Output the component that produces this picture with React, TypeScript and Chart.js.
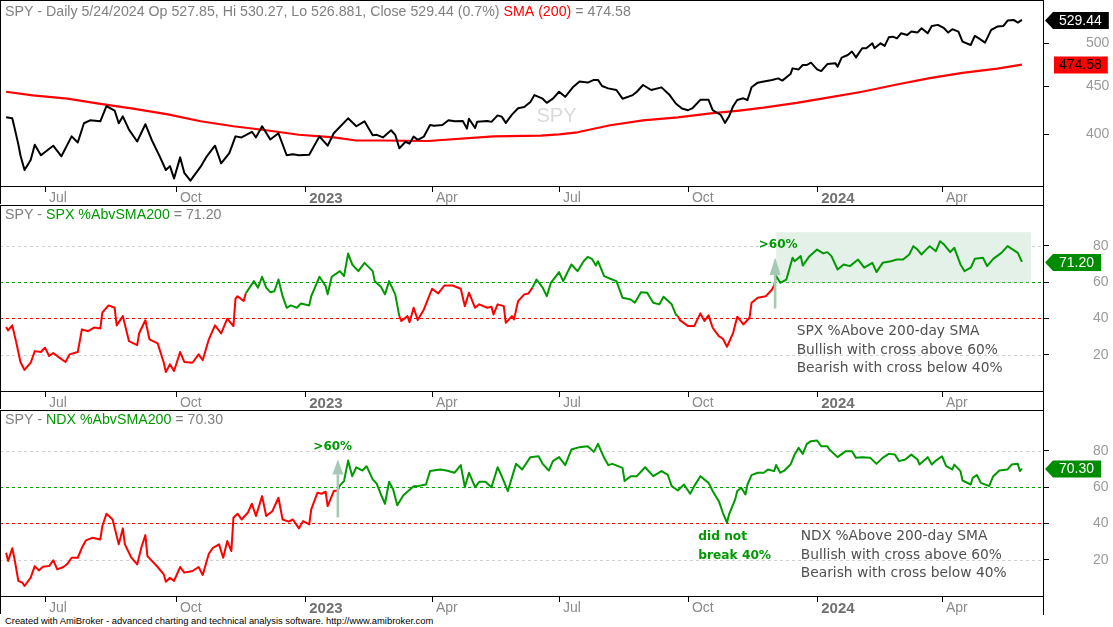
import { useEffect, useRef } from "react";
import { Chart, registerables } from "chart.js";

Chart.register(...registerables);

// x values are trading sessions counted from Fri 2022-06-03 (session 0); Fri 2024-05-24 is session 496
const quarterTickSessions = [19, 83, 146, 208, 270, 333, 396, 457];
const quarterTickLabels = ["Jul", "Oct", "2023", "Apr", "Jul", "Oct", "2024", "Apr"];
const yearTickLabels = ["2023", "2024"];

const priceTicks = [400, 450, 500];
const breadthTicks = [20, 40, 60, 80];
const breadthTickColors = ["#d2d2d2", "#ff0000", "#00a000", "#d2d2d2"];

const spySessions = [0, 3, 4, 6, 7, 9, 12, 14, 17, 23, 27, 32, 35, 38, 41, 46, 49, 53, 55, 57, 60, 64, 68, 71, 75, 78, 80, 82, 85, 87, 90, 95, 98, 102, 105, 109, 112, 115, 120, 122, 125, 129, 133, 137, 140, 143, 148, 153, 157, 160, 167, 171, 175, 179, 181, 184, 188, 190, 192, 195, 197, 199, 201, 204, 207, 209, 213, 216, 219, 223, 225, 226, 229, 230, 235, 237, 240, 242, 244, 247, 250, 253, 256, 258, 262, 264, 267, 270, 273, 277, 280, 284, 287, 289, 291, 294, 298, 301, 306, 308, 311, 315, 320, 324, 327, 330, 333, 335, 339, 343, 345, 349, 351, 353, 355, 357, 360, 362, 364, 367, 370, 374, 377, 379, 383, 384, 387, 389, 391, 393, 396, 398, 401, 405, 406, 408, 411, 413, 415, 418, 420, 423, 424, 427, 429, 431, 433, 435, 437, 440, 442, 445, 447, 450, 452, 455, 458, 460, 462, 465, 467, 471, 473, 475, 478, 481, 484, 487, 489, 492, 494, 496];
const spyClose = [417, 416, 407.5, 390, 380, 366.5, 375.6, 390, 380, 389, 379, 398, 392, 411, 414, 413, 428.6, 424, 411, 418, 404.6, 393, 410, 395, 379, 366.5, 370, 359, 378, 364, 357, 369.5, 379, 389, 372.5, 382, 398, 397, 402.5, 397, 408, 395, 401, 380, 381, 380, 380.5, 398, 389, 401, 416, 408, 413, 399, 399.5, 397, 404, 399.5, 386.5, 392.8, 391, 397.8, 394.6, 397.8, 409.3, 408.4, 409.3, 414, 413, 413.3, 405.6, 415.6, 406.2, 412.4, 413.3, 412.4, 419, 417.7, 411.4, 419.8, 426.4, 427.8, 433, 440.4, 436.5, 432.1, 436.5, 444, 438.5, 449.5, 455.2, 454.1, 457.1, 457.1, 450.3, 447.7, 445.9, 436.5, 440.4, 444, 451.4, 445.9, 448.8, 440.4, 431.4, 426.2, 424.4, 426.2, 435.3, 435.3, 424.4, 419.4, 411.4, 418, 428.5, 435.1, 436.9, 435.1, 449, 454, 455.2, 457, 458.8, 456.3, 463.7, 470.2, 469, 474.1, 474.1, 476.8, 469, 467.1, 475.2, 476, 472.1, 482.7, 485.9, 490, 483.1, 494, 494, 500, 494, 500, 496.8, 507.4, 508.2, 506.1, 512.4, 510.3, 514.6, 513.3, 518.8, 512.4, 521.8, 523.1, 518.8, 513.3, 517.6, 514.6, 502.1, 497.9, 509.1, 506.1, 500.8, 516.7, 521, 521.8, 528.7, 529.5, 526.1, 529.44];

const smaSessions = [0, 13, 30, 46, 62, 79, 95, 111, 127, 143, 160, 171, 183, 206, 238, 261, 270, 279, 295, 311, 328, 344, 358, 370, 386, 402, 418, 435, 451, 467, 484, 496];
const sma200 = [444, 440, 436.6, 431, 426, 420, 413, 408, 404, 399.6, 397, 394, 394, 393.5, 398, 398.7, 400, 402, 409, 414, 417, 421, 424, 427, 432, 438, 444, 452, 459, 465, 470, 474.58];

const spxSessions = [0, 1, 3, 5, 7, 9, 12, 14, 17, 19, 21, 23, 26, 29, 31, 35, 37, 40, 43, 46, 47, 50, 53, 54, 57, 60, 64, 65, 68, 70, 74, 77, 78, 80, 82, 85, 87, 91, 94, 96, 99, 102, 105, 108, 111, 112, 113, 116, 117, 121, 123, 125, 127, 129, 131, 133, 135, 137, 139, 142, 144, 148, 149, 153, 156, 157, 159, 163, 165, 167, 169, 172, 175, 179, 180, 183, 185, 187, 190, 192, 193, 196, 197, 199, 201, 204, 208, 211, 214, 218, 222, 224, 226, 229, 231, 235, 237, 238, 240, 243, 244, 247, 248, 250, 253, 255, 257, 259, 262, 264, 266, 270, 272, 276, 279, 282, 284, 286, 288, 289, 292, 295, 298, 301, 305, 307, 310, 313, 316, 319, 321, 325, 327, 328, 329, 333, 336, 339, 341, 343, 345, 348, 350, 352, 355, 357, 360, 363, 364, 367, 371, 374, 375, 376, 378, 381, 384, 385, 388, 389, 392, 396, 399, 401, 403, 406, 409, 412, 416, 419, 423, 425, 428, 432, 435, 438, 441, 443, 445, 447, 448, 451, 454, 456, 458, 461, 463, 466, 468, 471, 473, 477, 479, 482, 486, 489, 492, 494, 496];
const spxPctAbove = [35.3, 33.4, 36.2, 26.6, 16, 11.6, 15.6, 22, 21.5, 23.9, 19.3, 21, 18.4, 16, 20.2, 21.5, 34, 33, 35, 34.5, 43.2, 47.2, 45.9, 36.2, 41.3, 27.5, 25.3, 32, 39, 28.5, 26.3, 15.6, 10.5, 14.7, 11, 21.5, 16, 15.6, 20.2, 17, 28.5, 36.2, 31.8, 39.9, 35.8, 50.9, 52.3, 49.6, 53.8, 60.6, 57, 63, 57, 54.5, 55, 61.5, 52.3, 45.9, 47.2, 45.9, 48.3, 47.2, 52.3, 63, 57.9, 53.3, 63, 66.1, 63.4, 75.8, 69.8, 66.1, 70.7, 66.1, 60.6, 57.5, 53.3, 60.6, 53.3, 41.3, 38.6, 41.3, 38, 45.9, 39.1, 45, 56.4, 53.8, 58.2, 58.2, 56.4, 46.8, 54.2, 45.9, 47.8, 45.9, 46.5, 42.2, 47.8, 46.8, 37.6, 41.3, 39.5, 49.6, 53.3, 53.8, 57, 61.5, 57, 52.3, 59.7, 65.6, 60.6, 69.8, 66.1, 71.6, 74, 72.9, 69.2, 71.6, 63.4, 61.9, 60.6, 51.4, 50.5, 48.7, 54.5, 54.2, 48.7, 47.8, 52, 47.8, 42.2, 41.3, 39.1, 35.8, 35.8, 42.8, 38.6, 41.7, 34.9, 30.3, 28.8, 24.4, 32.1, 41, 36.7, 40.4, 48.7, 51.4, 52.3, 56, 58.2, 63.4, 59.7, 61.5, 73.5, 71.6, 74.4, 69.2, 74, 78, 75.9, 76.6, 74.4, 67, 69.8, 68.9, 72.5, 68, 70.7, 65.6, 70.7, 71.6, 72.5, 72.5, 75.3, 79.9, 78, 75.3, 76.6, 79.9, 77.1, 82.6, 80.8, 76.6, 79, 69.8, 66.1, 68, 72.9, 73.5, 68.9, 72.9, 76.2, 79.9, 77.7, 76.2, 71.2];

const ndxSessions = [0, 1, 3, 4, 6, 8, 9, 12, 14, 16, 18, 21, 23, 25, 28, 30, 32, 35, 37, 39, 42, 46, 47, 49, 52, 55, 57, 58, 61, 64, 66, 68, 69, 74, 77, 78, 80, 82, 85, 87, 91, 94, 96, 99, 101, 104, 106, 108, 110, 111, 113, 115, 118, 120, 122, 125, 127, 130, 133, 135, 138, 140, 143, 145, 148, 149, 152, 154, 156, 157, 160, 162, 163, 165, 167, 169, 171, 174, 176, 179, 181, 183, 185, 187, 189, 191, 194, 199, 201, 205, 207, 212, 215, 219, 222, 224, 226, 229, 231, 234, 237, 240, 242, 245, 249, 252, 256, 260, 262, 265, 267, 270, 273, 276, 280, 284, 287, 289, 292, 294, 296, 301, 302, 305, 308, 312, 316, 320, 323, 325, 328, 331, 334, 336, 339, 343, 345, 348, 350, 352, 353, 356, 357, 359, 361, 362, 364, 367, 370, 372, 375, 376, 378, 380, 383, 385, 387, 389, 391, 393, 396, 398, 401, 402, 406, 410, 413, 415, 418, 422, 425, 428, 431, 434, 436, 439, 442, 445, 446, 450, 452, 454, 457, 459, 462, 463, 466, 467, 471, 472, 474, 476, 480, 482, 485, 489, 491, 494, 495, 496];
const ndxPctAbove = [23.9, 19.3, 26.3, 21.1, 8.3, 7.3, 5.5, 10.1, 16.5, 14.1, 16.2, 16.5, 19.7, 14.7, 16, 17.8, 21.1, 21.1, 26.6, 30.7, 32.1, 31.2, 38.6, 45.4, 42.2, 28.5, 37.3, 28.5, 21.5, 17.4, 26.6, 33.6, 22, 16, 11.9, 7.9, 10.1, 8.3, 16, 12.9, 13.8, 16, 11.6, 23.3, 26.6, 28.5, 21.1, 30.3, 24.8, 43.2, 45.4, 42.2, 45.9, 50.9, 44.1, 55.1, 44.1, 46.8, 54.2, 42.2, 41, 42.2, 37.3, 41.3, 39.5, 47.8, 56.9, 56.4, 57.5, 49.6, 57.9, 58.2, 61, 63.4, 74.7, 66.1, 71, 69.2, 71.6, 64.3, 61.9, 56, 50.9, 63, 58.8, 50.1, 55.6, 60.6, 60.6, 61.5, 68.9, 69.8, 69.2, 68, 72.2, 60, 68, 60, 63, 63, 60, 71, 66.1, 57.9, 72.9, 69.8, 76.6, 77.1, 72.9, 69.2, 74.4, 76.6, 72.2, 80.8, 82.1, 82.6, 79.5, 83.9, 76.2, 72.2, 72.9, 70.7, 63.4, 66.1, 66.1, 71, 66.1, 68.9, 67, 60.6, 58.2, 61.5, 56.4, 60.6, 66.1, 62.4, 57.9, 52.3, 45.9, 40.4, 45, 53.3, 57.9, 59.7, 56, 61.5, 66.7, 68, 68, 69.8, 68.9, 72.2, 68, 69.2, 72.5, 78, 81.7, 78.4, 83.9, 85.4, 85.8, 82.6, 82.6, 80.8, 76.6, 79.9, 79.9, 76.2, 76.6, 76.2, 72.9, 76.2, 78.4, 78, 74.4, 75.3, 78, 75.3, 72.5, 76.6, 72.5, 74.7, 77.1, 71.6, 69.8, 72.5, 68.9, 63.7, 61.5, 65.2, 66.7, 62.4, 60.6, 66.1, 69.2, 69.8, 72.5, 72.9, 68.9, 70.3];

const X_MIN = -2.98;
const X_MAX = 506.3;
const FONT = "'Liberation Sans', Arial, sans-serif";
const NOTE_FONT = "'DejaVu Sans', Verdana, sans-serif";
const GRAY = "#808080";
const GREEN = "#009900";
const RED = "#ff0000";

function points(xs: number[], ys: number[]) {
  return xs.map((x, i) => ({ x, y: ys[i] }));
}

function regimeColors(values: number[]) {
  let bullish = false;
  return values.map((v) => {
    if (!bullish && v > 60) bullish = true;
    else if (bullish && v < 40) bullish = false;
    return bullish ? GREEN : RED;
  });
}

function noPad(s: any) {
  s.paddingTop = 0;
  s.paddingBottom = 0;
  s.paddingLeft = 0;
  s.paddingRight = 0;
}

function isYearTick(v: number) {
  const i = quarterTickSessions.indexOf(v);
  return i >= 0 && yearTickLabels.includes(quarterTickLabels[i]);
}

function xScale() {
  return {
    type: "linear" as const,
    min: X_MIN,
    max: X_MAX,
    afterBuildTicks: (s: any) => {
      s.ticks = quarterTickSessions.map((v) => ({ value: v }));
    },
    afterFit: (s: any) => {
      s.height = 19;
      noPad(s);
    },
    border: { display: false },
    grid: { drawOnChartArea: false, drawTicks: true, tickLength: 6, tickColor: "#000", tickWidth: 1 },
    ticks: {
      autoSkip: false,
      maxRotation: 0,
      minRotation: 0,
      align: "start" as const,
      padding: -2,
      callback: (v: any) => {
        const i = quarterTickSessions.indexOf(Number(v));
        return i >= 0 ? " " + quarterTickLabels[i] : "";
      },
      color: (ctx: any) => (isYearTick(ctx.tick?.value) ? "#707070" : "#8a8a8a"),
      font: (ctx: any) => {
        const yr = isYearTick(ctx.tick?.value);
        return { family: FONT, size: yr ? 15 : 14, weight: yr ? "bold" : "normal" };
      },
    },
  };
}

function drawSegments(ctx: CanvasRenderingContext2D, x: number, y: number, segs: [string, string][]) {
  ctx.font = `14.2px ${FONT}`;
  ctx.textAlign = "left";
  ctx.textBaseline = "middle";
  for (const [t, c] of segs) {
    ctx.fillStyle = c;
    ctx.fillText(t, x, y);
    x += ctx.measureText(t).width;
  }
}

function drawTag(ctx: CanvasRenderingContext2D, y: number, text: string, bg: string, fg: string, arrow: boolean) {
  ctx.font = `14px ${FONT}`;
  const w = ctx.measureText(text).width;
  const h = 17;
  const tip = 1045;
  const base = arrow ? 1053 : 1054;
  const right = base + w + (arrow ? 13 : 11);
  ctx.fillStyle = bg;
  ctx.beginPath();
  if (arrow) {
    ctx.moveTo(tip, y);
    ctx.lineTo(base, y - h / 2);
    ctx.lineTo(right, y - h / 2);
    ctx.lineTo(right, y + h / 2);
    ctx.lineTo(base, y + h / 2);
    ctx.closePath();
  } else {
    ctx.rect(base, y - h / 2, right - base, h);
  }
  ctx.fill();
  ctx.fillStyle = fg;
  ctx.textAlign = "left";
  ctx.textBaseline = "middle";
  ctx.fillText(text, base + (arrow ? 6 : 5), y + 0.5);
}

function drawFrame(chart: any) {
  const ctx: CanvasRenderingContext2D = chart.ctx;
  const { right, bottom } = chart.chartArea;
  const H = chart.height;
  ctx.save();
  ctx.strokeStyle = "#000";
  ctx.lineWidth = 1;
  ctx.setLineDash([]);
  ctx.beginPath();
  ctx.moveTo(0.5, 0);
  ctx.lineTo(0.5, H - 1);
  ctx.moveTo(Math.round(right) + 0.5, 0);
  ctx.lineTo(Math.round(right) + 0.5, H);
  ctx.moveTo(0, 0.5);
  ctx.lineTo(right + 1, 0.5);
  ctx.moveTo(0, Math.round(bottom) + 0.5);
  ctx.lineTo(right + 1, Math.round(bottom) + 0.5);
  ctx.stroke();
  ctx.restore();
}

function drawUpArrow(ctx: CanvasRenderingContext2D, x: number, yFrom: number, yBase: number, yTip: number) {
  ctx.fillStyle = "#a6c9b3";
  ctx.fillRect(x - 1.3, yBase, 2.6, yFrom - yBase);
  ctx.beginPath();
  ctx.moveTo(x - 5.5, yBase);
  ctx.lineTo(x + 5.5, yBase);
  ctx.lineTo(x, yTip);
  ctx.closePath();
  ctx.fill();
}

function drawNoteLines(ctx: CanvasRenderingContext2D, x: number, ys: number[], lines: string[]) {
  ctx.font = `13.8px ${NOTE_FONT}`;
  ctx.fillStyle = "#505050";
  ctx.textAlign = "left";
  ctx.textBaseline = "middle";
  lines.forEach((l, i) => ctx.fillText(l, x, ys[i]));
}

const baseOptions = {
  animation: false as const,
  responsive: false,
  events: [] as any[],
  layout: { padding: 0 },
  elements: { point: { radius: 0 }, line: { tension: 0, borderJoinStyle: "round" as const } },
  plugins: { legend: { display: false }, tooltip: { enabled: false }, title: { display: false } },
};

function makePriceChart(canvas: HTMLCanvasElement) {
  const plugin = {
    id: "pricePanel",
    beforeDatasetsDraw(chart: any) {
      const ctx: CanvasRenderingContext2D = chart.ctx;
      ctx.save();
      ctx.font = `20px ${FONT}`;
      ctx.fillStyle = "#dadada";
      ctx.textAlign = "center";
      ctx.textBaseline = "middle";
      ctx.fillText("SPY", chart.width / 2, 116);
      ctx.restore();
    },
    afterDraw(chart: any) {
      const ctx: CanvasRenderingContext2D = chart.ctx;
      const y = chart.scales.y;
      drawFrame(chart);
      ctx.save();
      drawSegments(ctx, 5, 12, [
        ["SPY - Daily 5/24/2024 Op 527.85, Hi 530.27, Lo 526.881, Close 529.44 (0.7%) ", GRAY],
        ["SMA (200)", RED],
        [" = 474.58", GRAY],
      ]);
      drawTag(ctx, y.getPixelForValue(spyClose[spyClose.length - 1]) + 0.5, "529.44", "#000", "#fff", true);
      drawTag(ctx, y.getPixelForValue(sma200[sma200.length - 1]) + 0.5, "474.58", RED, "#000", false);
      ctx.restore();
    },
  };
  return new Chart(canvas, {
    type: "line",
    data: {
      datasets: [
        { data: points(spySessions, spyClose), borderColor: "#000", borderWidth: 2 },
        { data: points(smaSessions, sma200), borderColor: RED, borderWidth: 2.2 },
      ],
    },
    options: {
      ...baseOptions,
      scales: {
        x: xScale() as any,
        y: {
          type: "logarithmic",
          position: "right",
          min: 352.4,
          max: 556,
          afterBuildTicks: (s: any) => {
            s.ticks = priceTicks.map((v) => ({ value: v }));
          },
          afterFit: (s: any) => {
            s.width = 70;
            noPad(s);
          },
          border: { display: false },
          grid: { drawOnChartArea: false, drawTicks: true, tickLength: 6, tickColor: "#000" },
          ticks: {
            padding: 37,
            color: "#9a9a9a",
            font: { family: FONT, size: 14 },
            callback: (v: any) => String(v),
          },
        } as any,
      },
    } as any,
    plugins: [plugin],
  });
}

type BreadthCfg = {
  sessions: number[];
  values: number[];
  name: string;
  valueText: string;
  noteSession: number;
  noteLines: string[];
  arrowSession: number;
  arrowFrom: number;
  arrowBase: number;
  arrowTip: number;
  labelSession: number;
  labelValue: number;
  shade?: { from: number; to: number; low: number; high: number };
  extra?: { session: number; values: number[]; lines: string[] };
};

function makeBreadthChart(canvas: HTMLCanvasElement, cfg: BreadthCfg) {
  const colors = regimeColors(cfg.values);
  const plugin = {
    id: "breadthPanel",
    beforeDatasetsDraw(chart: any) {
      const ctx: CanvasRenderingContext2D = chart.ctx;
      const x = chart.scales.x;
      const y = chart.scales.y;
      const { left, right } = chart.chartArea;
      ctx.save();
      ctx.lineWidth = 1;
      ctx.setLineDash([3, 3]);
      breadthTicks.forEach((v, i) => {
        const py = Math.round(y.getPixelForValue(v)) + 0.5;
        ctx.strokeStyle = breadthTickColors[i];
        ctx.beginPath();
        ctx.moveTo(left, py);
        ctx.lineTo(right, py);
        ctx.stroke();
      });
      ctx.setLineDash([]);
      if (cfg.shade) {
        const x0 = x.getPixelForValue(cfg.shade.from);
        const x1 = x.getPixelForValue(cfg.shade.to);
        const y0 = y.getPixelForValue(cfg.shade.high);
        const y1 = y.getPixelForValue(cfg.shade.low);
        ctx.fillStyle = "#e4f1e8";
        ctx.fillRect(x0, y0, x1 - x0, y1 - y0);
      }
      ctx.restore();
    },
    afterDraw(chart: any) {
      const ctx: CanvasRenderingContext2D = chart.ctx;
      const x = chart.scales.x;
      const y = chart.scales.y;
      drawFrame(chart);
      ctx.save();
      drawSegments(ctx, 5, 10.5, [
        ["SPY - ", GRAY],
        [cfg.name, GREEN],
        [" = " + cfg.valueText, GRAY],
      ]);
      const ax = x.getPixelForValue(cfg.arrowSession);
      drawUpArrow(ctx, ax, y.getPixelForValue(cfg.arrowFrom), y.getPixelForValue(cfg.arrowBase), y.getPixelForValue(cfg.arrowTip));
      ctx.font = `bold 12px ${NOTE_FONT}`;
      ctx.fillStyle = GREEN;
      ctx.textAlign = "center";
      ctx.textBaseline = "middle";
      ctx.fillText(">60%", x.getPixelForValue(cfg.labelSession), y.getPixelForValue(cfg.labelValue));
      if (cfg.extra) {
        const ex = cfg.extra;
        ctx.font = `bold 12.2px ${NOTE_FONT}`;
        ctx.textAlign = "left";
        const px = x.getPixelForValue(ex.session);
        ex.lines.forEach((l, i) => ctx.fillText(l, px, y.getPixelForValue(ex.values[i])));
      }
      drawNoteLines(
        ctx,
        x.getPixelForValue(cfg.noteSession),
        [32.9, 22.6, 12.5].map((v) => y.getPixelForValue(v)),
        cfg.noteLines
      );
      drawTag(ctx, y.getPixelForValue(cfg.values[cfg.values.length - 1]) + 0.5, cfg.valueText, "#008c00", "#fff", true);
      ctx.restore();
    },
  };
  return new Chart(canvas, {
    type: "line",
    data: {
      datasets: [
        {
          data: points(cfg.sessions, cfg.values),
          borderColor: RED,
          borderWidth: 2,
          segment: { borderColor: (c: any) => colors[c.p1DataIndex] },
        } as any,
      ],
    },
    options: {
      ...baseOptions,
      scales: {
        x: xScale() as any,
        y: {
          type: "linear",
          position: "right",
          min: 0,
          max: 102.6,
          afterBuildTicks: (s: any) => {
            s.ticks = breadthTicks.map((v) => ({ value: v }));
          },
          afterFit: (s: any) => {
            s.width = 70;
            noPad(s);
          },
          border: { display: false },
          grid: { drawOnChartArea: false, drawTicks: true, tickLength: 6, tickColor: "#000" },
          ticks: {
            padding: 44,
            color: "#9a9a9a",
            font: { family: FONT, size: 14 },
            callback: (v: any) => String(v),
          },
        } as any,
      },
    } as any,
    plugins: [plugin],
  });
}

const spxCfg: BreadthCfg = {
  sessions: spxSessions,
  values: spxPctAbove,
  name: "SPX %AbvSMA200",
  valueText: "71.20",
  noteSession: 386,
  noteLines: ["SPX %Above 200-day SMA", "Bullish with cross above 60%", "Bearish with cross below 40%"],
  arrowSession: 375.5,
  arrowFrom: 45.5,
  arrowBase: 64,
  arrowTip: 73.7,
  labelSession: 377,
  labelValue: 80.7,
  shade: { from: 376, to: 500.4, low: 60, high: 87.6 },
};

const ndxCfg: BreadthCfg = {
  sessions: ndxSessions,
  values: ndxPctAbove,
  name: "NDX %AbvSMA200",
  valueText: "70.30",
  noteSession: 388,
  noteLines: ["NDX %Above 200-day SMA", "Bullish with cross above 60%", "Bearish with cross below 40%"],
  arrowSession: 162,
  arrowFrom: 43.4,
  arrowBase: 67,
  arrowTip: 75.3,
  labelSession: 159.5,
  labelValue: 82,
  extra: { session: 338, values: [32.4, 21.9], lines: ["did not", "break 40%"] },
};

export default function App() {
  const c1 = useRef<HTMLCanvasElement>(null);
  const c2 = useRef<HTMLCanvasElement>(null);
  const c3 = useRef<HTMLCanvasElement>(null);
  useEffect(() => {
    const charts = [
      makePriceChart(c1.current!),
      makeBreadthChart(c2.current!, spxCfg),
      makeBreadthChart(c3.current!, ndxCfg),
    ];
    return () => charts.forEach((c) => c.destroy());
  }, []);
  const cs = (top: number) => ({ position: "absolute" as const, left: 0, top, width: 1113, height: 205, display: "block" });
  return (
    <div style={{ position: "fixed", left: 0, top: 0, width: 1113, height: 627, background: "#fff", overflow: "hidden" }}>
      <canvas ref={c1} width={1113} height={205} style={cs(0)} />
      <canvas ref={c2} width={1113} height={205} style={cs(205)} />
      <canvas ref={c3} width={1113} height={205} style={cs(410)} />
      <div
        style={{
          position: "absolute",
          left: 5,
          top: 615,
          font: `9.4px ${FONT}`,
          lineHeight: "12px",
          color: "#000",
          whiteSpace: "nowrap",
        }}
      >
        Created with AmiBroker - advanced charting and technical analysis software. http://www.amibroker.com
      </div>
    </div>
  );
}
